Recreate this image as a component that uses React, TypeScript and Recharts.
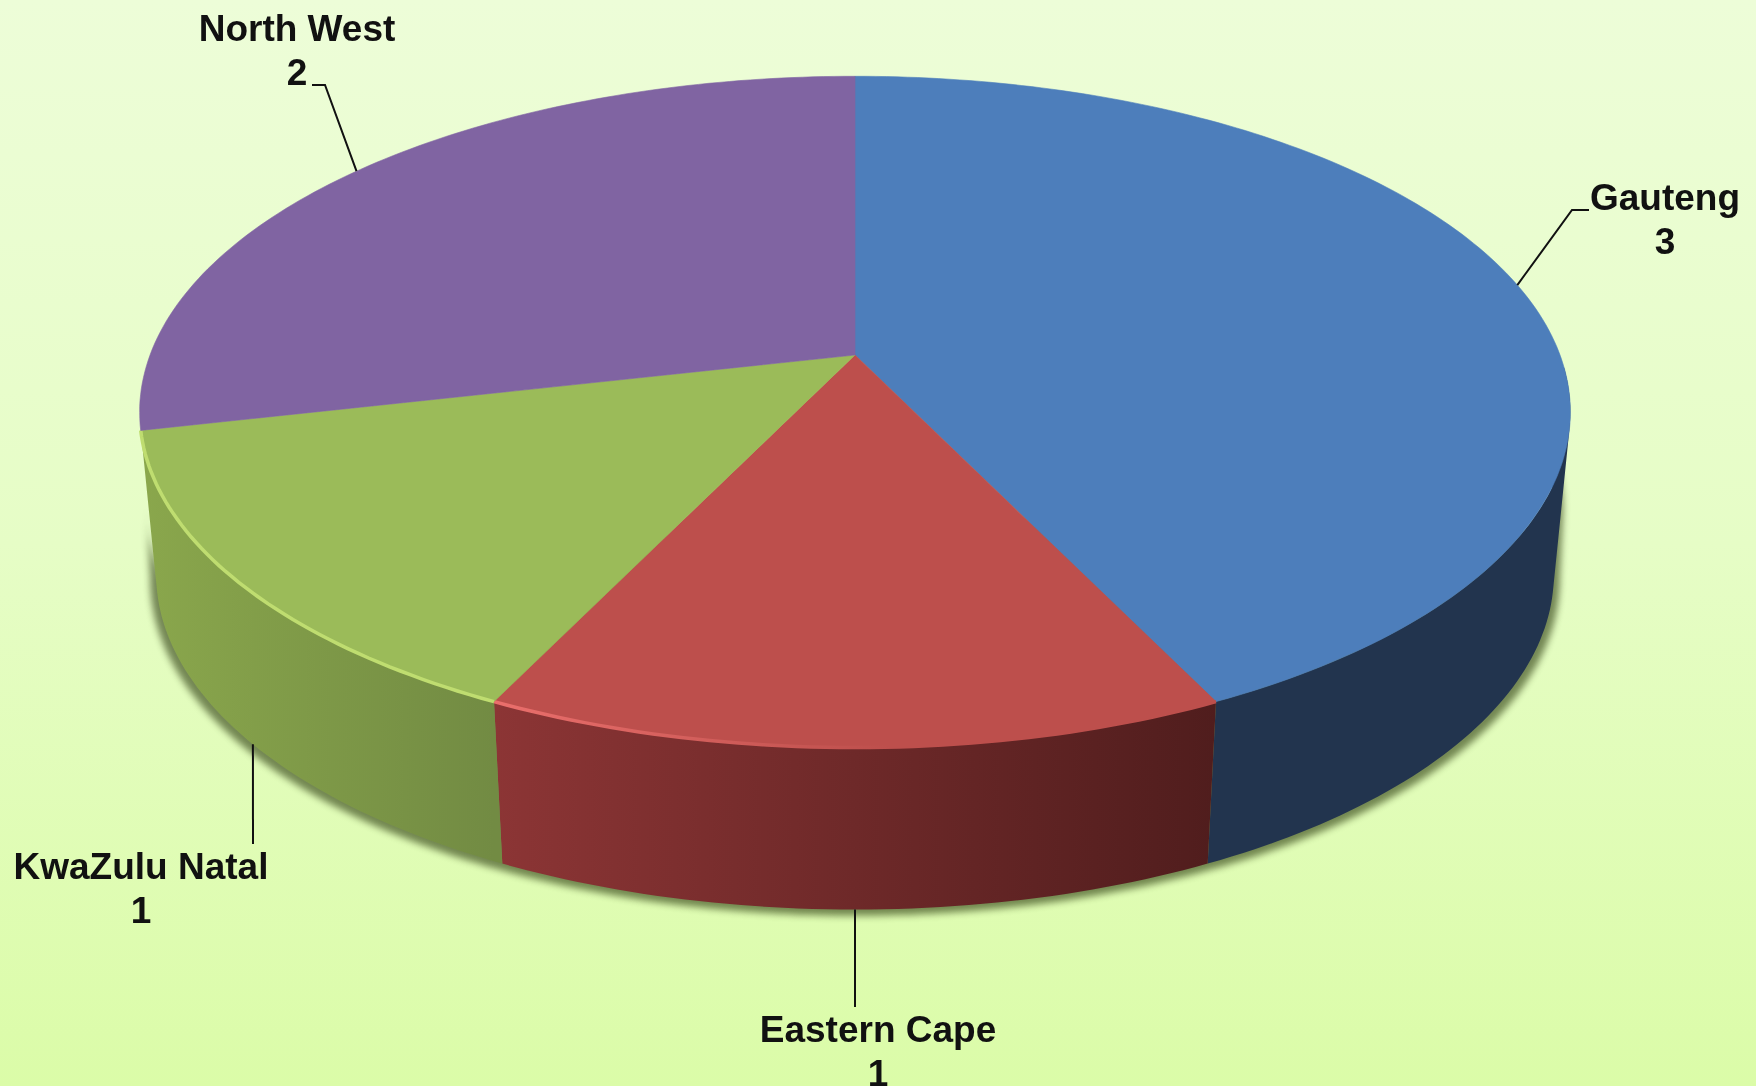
import React from "react";
import { PieChart, Pie } from "recharts";

const regions = ["Gauteng", "Eastern Cape", "KwaZulu Natal", "North West"];
const counts = [3, 1, 1, 2];
const topColors = ["#4d7ebb", "#bd4f4c", "#9bbb59", "#8064a2"];
const wallLeftColors = ["#22344e", "#8c3535", "#8aa74c", "#6a5388"];
const wallRightColors = ["#22344e", "#501d1d", "#728b43", "#6a5388"];
const rimLeftColors = ["#4d7ebb", "#ea6f6c", "#bfdd70", "#8064a2"];
const rimRightColors = ["#4d7ebb", "#bd4f4c", "#bfdd70", "#8064a2"];

const pieData = regions.map((name, i) => ({ name, value: counts[i] }));

// Drawing geometry of the tilted disc (a perspective projection of the pie's circle)
const CX = 855;
const CY = 355;
const RADIUS = 705;
const TILT = 0.4624;
const PERSPECTIVE = 0.1695;
const DEPTH = 162;
const BASE_SCALE = 0.977;
const WALL_FROM = 92;
const WALL_TO = 257.1;
const FONT = "'Liberation Sans', Arial, sans-serif";
const FONT_SIZE = 37;
const LINE_GAP = 43.5;

// Label placement: text centre, first baseline, leader-line elbows
const labelLayout: Record<string, { x: number; y: number; onBase: boolean; elbows: number[][] }> = {
  Gauteng: { x: 1665, y: 210, onBase: false, elbows: [[1572, 210], [1589, 210]] },
  "Eastern Cape": { x: 878, y: 1042, onBase: true, elbows: [[855, 1007]] },
  "KwaZulu Natal": { x: 141, y: 879, onBase: true, elbows: [[253, 844]] },
  "North West": { x: 297, y: 41, onBase: false, elbows: [[325, 85], [312, 85]] },
};

type Pt = { x: number; y: number };

const project = (cx: number, cy: number, r: number, thetaDeg: number): Pt => {
  const t = (thetaDeg * Math.PI) / 180;
  const u = Math.sin(t);
  const v = Math.cos(t);
  const w = 1 + PERSPECTIVE * v;
  return { x: cx + (r * u) / w, y: cy - (r * TILT * v) / w };
};

const lowered = (p: Pt, cx: number, scale: number, dy: number): Pt => ({
  x: cx + (p.x - cx) * scale,
  y: p.y + dy,
});

const rimPoints = (cx: number, cy: number, r: number, from: number, to: number) => {
  const n = Math.max(2, Math.ceil(to - from));
  const pts: Pt[] = [];
  for (let i = 0; i <= n; i++) pts.push(project(cx, cy, r, from + ((to - from) * i) / n));
  return pts;
};

const toPath = (pts: Pt[]) =>
  pts.map((p, i) => `${i ? "L" : "M"}${p.x.toFixed(1)} ${p.y.toFixed(1)}`).join(" ");

const signedArea = (q: Pt[]) =>
  q.reduce((sum, p, i) => {
    const n = q[(i + 1) % q.length];
    return sum + p.x * n.y - n.x * p.y;
  }, 0);

// A band of equally wound quads in one path, so that the disc's silhouette is filled past its widest point
const strip = (upper: Pt[], lower: Pt[]) =>
  upper
    .slice(1)
    .map((p, i) => {
      const quad = [upper[i], p, lower[i + 1], lower[i]];
      return `${toPath(signedArea(quad) < 0 ? quad.reverse() : quad)} Z`;
    })
    .join(" ");

const TopFace = (props: any) => {
  const { cx, cy, outerRadius, startAngle, endAngle, name } = props;
  const i = regions.indexOf(name);
  const from = 90 - startAngle;
  const to = 90 - endAngle;
  const rim = rimPoints(cx, cy, outerRadius, from, to);
  const id = `rim-${i}`;
  return (
    <g>
      <defs>
        <linearGradient id={id} x1="0" y1="0" x2="1" y2="0">
          <stop offset="0" stopColor={rimLeftColors[i]} />
          <stop offset="0.55" stopColor={rimRightColors[i]} />
        </linearGradient>
      </defs>
      <path d={`M${cx} ${cy} ${toPath(rim).replace("M", "L")} Z`} fill={topColors[i]} stroke={topColors[i]} strokeWidth={0.6} />
      {i === 1 || i === 2 ? (
        <path d={toPath(rim)} fill="none" stroke={`url(#${id})`} strokeWidth={3.5} />
      ) : null}
    </g>
  );
};

const Wall = (props: any) => {
  const { cx, cy, outerRadius, startAngle, endAngle, name } = props;
  const i = regions.indexOf(name);
  const from = Math.max(WALL_FROM, 90 - startAngle);
  const to = Math.min(WALL_TO, 90 - endAngle);
  if (to <= from) return <g />;
  const rim = rimPoints(cx, cy, outerRadius, from, to);
  const base = rim.map((p) => lowered(p, cx, BASE_SCALE, DEPTH));
  const id = `wall-${i}`;
  return (
    <g>
      <defs>
        <linearGradient id={id} gradientUnits="userSpaceOnUse" x1={Math.min(...rim.map((p) => p.x))} y1="0" x2={Math.max(...rim.map((p) => p.x))} y2="0">
          <stop offset="0" stopColor={wallLeftColors[i]} />
          <stop offset="1" stopColor={wallRightColors[i]} />
        </linearGradient>
      </defs>
      <path d={strip(rim, base)} fill={`url(#${id})`} />
    </g>
  );
};

const Shadow = (props: any) => {
  const { cx, cy, outerRadius, startAngle, endAngle } = props;
  const from = Math.max(WALL_FROM, 90 - startAngle);
  const to = Math.min(WALL_TO + 3, 90 - endAngle);
  if (to <= from) return <g />;
  const rim = rimPoints(cx, cy, outerRadius, from, to);
  const base = rim.map((p) => lowered(p, cx, 0.985, DEPTH + 6));
  const upper = rim.map((p) => lowered(p, cx, 0.99, 95));
  return (
    <g>
      <path d={`M${cx} ${cy + DEPTH} ${toPath(base).replace("M", "L")} Z`} fill="#2f3f12" />
      <path d={strip(upper, base)} fill="#2f3f12" />
    </g>
  );
};

const SliceLabel = (props: any) => {
  const { cx, cy, outerRadius, midAngle, name, value } = props;
  const layout = labelLayout[name];
  const anchor = project(cx, cy, outerRadius, 90 - midAngle);
  const start = layout.onBase ? lowered(anchor, cx, BASE_SCALE, DEPTH) : anchor;
  const pts = [start, ...layout.elbows.map(([x, y]) => ({ x, y }))];
  return (
    <g>
      <path d={toPath(pts)} fill="none" stroke="#111" strokeWidth={2} />
      <text x={layout.x} y={layout.y} textAnchor="middle" fontFamily={FONT} fontWeight="bold" fontSize={FONT_SIZE} fill="#111">
        {name}
      </text>
      <text x={layout.x} y={layout.y + LINE_GAP} textAnchor="middle" fontFamily={FONT} fontWeight="bold" fontSize={FONT_SIZE} fill="#111">
        {value}
      </text>
    </g>
  );
};

export default function App() {
  const common = {
    data: pieData,
    dataKey: "value",
    nameKey: "name",
    cx: CX,
    cy: CY,
    outerRadius: RADIUS,
    startAngle: 90,
    endAngle: -270,
    paddingAngle: 0,
    stroke: "none",
    isAnimationActive: false,
    labelLine: false,
  };
  return (
    <div
      style={{
        position: "fixed",
        left: 0,
        top: 0,
        width: 1756,
        height: 1086,
        overflow: "hidden",
        background: "linear-gradient(180deg, #edfdd8 0%, #e6fdc6 50%, #dbfca8 100%)",
      }}
    >
      <style>{`.pie-shadow{filter:blur(3.5px);opacity:.62}`}</style>
      <div style={{ filter: "blur(0.6px)" }}>
        <PieChart width={1756} height={1086} margin={{ top: 0, right: 0, bottom: 0, left: 0 }}>
          <Pie {...common} className="pie-shadow" shape={Shadow} label={false} />
          <Pie {...common} shape={Wall} label={false} />
          <Pie {...common} shape={TopFace} label={SliceLabel} />
        </PieChart>
      </div>
    </div>
  );
}
